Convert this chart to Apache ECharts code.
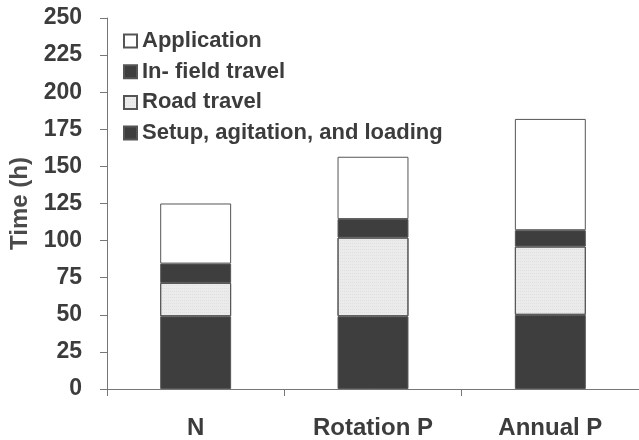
<!DOCTYPE html>
<html>
<head>
<meta charset="utf-8">
<script src="https://cdn.jsdelivr.net/npm/echarts@6/dist/echarts.min.js"></script>
<style>
  html, body { margin: 0; padding: 0; background: #fff; }
  #chart { width: 639px; height: 440px; }
</style>
</head>
<body>
<div id="chart"></div>
<script>
// categories and stacked values (h)
const categories = ['N', 'Rotation P', 'Annual P'];
const setupLoading = [49, 49, 50];
const roadTravel = [22.5, 53, 46];
const inFieldTravel = [13, 12.5, 11];
const application = [40.5, 42, 75];

const legendOrder = ['Application', 'In- field travel', 'Road travel', 'Setup, agitation, and loading'];

const chart = echarts.init(document.getElementById('chart'));
const font = 'Liberation Sans, Arial, sans-serif';
const txt = '#3c3c3c';
const dark = '#3e3e3e';

function bar(name, data, color, decal) {
    return {
        name: name,
        type: 'bar',
        stack: 'total',
        barWidth: '40%',
        data: data,
        itemStyle: { color: color, borderColor: '#555', borderWidth: 1, decal: decal },
        emphasis: { disabled: true }
    };
}

const option = {
    backgroundColor: '#fff',
    animation: false,
    grid: { left: 107, right: -6, top: 18, bottom: 50 },
    legend: {
        data: legendOrder,
        orient: 'vertical',
        left: 123,
        top: 30,
        padding: 0,
        itemWidth: 13,
        itemHeight: 13,
        itemGap: 8.7,
        icon: 'rect',
        textStyle: { fontFamily: font, fontWeight: 'bold', fontSize: 22, color: txt }
    },
    xAxis: {
        type: 'category',
        data: categories,
        axisLine: { lineStyle: { color: '#777', width: 1 } },
        axisTick: { show: true, length: 7, lineStyle: { color: '#777' } },
        axisLabel: { fontFamily: font, fontWeight: 'bold', fontSize: 24, color: txt, margin: 27 }
    },
    yAxis: {
        type: 'value',
        min: 0,
        max: 250,
        interval: 25,
        name: 'Time (h)',
        nameLocation: 'middle',
        nameGap: 65,
        nameTextStyle: { fontFamily: font, fontWeight: 'bold', fontSize: 24, color: '#4a4a4a' },
        splitLine: { show: false },
        axisLine: { show: true, lineStyle: { color: '#777', width: 1 } },
        axisTick: { show: true, length: 7, lineStyle: { color: '#777' } },
        axisLabel: { fontFamily: font, fontWeight: 'bold', fontSize: 23, color: txt, margin: 25 }
    },
    series: [
        bar('Setup, agitation, and loading', setupLoading, dark),
        bar('Road travel', roadTravel, '#ebebeb', {
            symbol: 'rect', symbolSize: 0.5, color: 'rgba(120,120,120,0.35)',
            dashArrayX: [1, 1], dashArrayY: [1, 2], rotation: 0
        }),
        bar('In- field travel', inFieldTravel, dark),
        bar('Application', application, '#ffffff')
    ]
};

chart.setOption(option);
</script>
</body>
</html>
